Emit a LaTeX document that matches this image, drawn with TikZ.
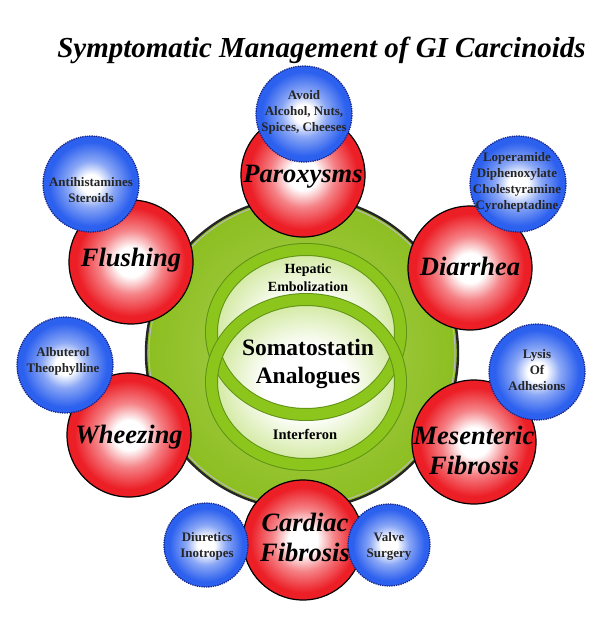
\documentclass[tikz,border=0pt]{standalone}
\usepackage{fontspec}
\setmainfont{Liberation Serif}
\usetikzlibrary{shapes.geometric}

\definecolor{symred}{RGB}{236,30,38}
\definecolor{thblue}{RGB}{44,96,238}
\definecolor{thedge}{RGB}{22,38,140}
\definecolor{hubgreen}{RGB}{140,190,32}
\definecolor{hublight}{RGB}{214,234,160}
\definecolor{ringgreen}{RGB}{140,198,28}
\definecolor{ringedge}{RGB}{96,146,22}
\definecolor{ringfill}{RGB}{208,232,156}

\pgfdeclareradialshading{redball}{\pgfpointorigin}{color(0bp)=(white); color(6bp)=(white); color(13bp)=(symred!55!white); color(22bp)=(symred); color(50bp)=(symred)}
\pgfdeclareradialshading{blueball}{\pgfpointorigin}{color(0bp)=(white); color(5bp)=(white); color(12bp)=(thblue!55!white); color(22bp)=(thblue); color(50bp)=(thblue)}
\pgfdeclareradialshading{hubdisc}{\pgfpointorigin}{color(0bp)=(hublight); color(14bp)=(hubgreen!80!hublight); color(25bp)=(hubgreen); color(50bp)=(hubgreen)}
\pgfdeclareradialshading{ringdisc}{\pgfpointorigin}{color(0bp)=(white); color(11bp)=(white); color(25bp)=(ringfill); color(50bp)=(ringfill)}

\tikzset{
  symptom/.style={circle, minimum size=124pt, inner sep=0pt, shading=redball, draw=black, line width=1.2pt},
  therapy/.style={circle, minimum size=96pt, inner sep=0pt, shading=blueball, draw=thedge, densely dotted, line width=1.3pt},
  symptomtext/.style={align=center, inner sep=0pt, font=\bfseries\itshape\fontsize{26.5}{30}\selectfont},
  therapytext/.style={align=center, inner sep=0pt, text=black!85, font=\bfseries\fontsize{13}{16}\selectfont},
  ring/.style={line width=13pt, ringedge},
  ringcore/.style={line width=11pt, ringgreen}
}

\begin{document}
\begin{tikzpicture}[x=1pt, y=-1pt]
  \useasboundingbox (0,0) rectangle (612,634);
  \node [anchor=base, font=\bfseries\itshape\fontsize{29}{33}\selectfont] (title) at (321.5,58) {Symptomatic Management of GI Carcinoids};

  \shade [shading=hubdisc] (302,353) circle [radius=156];
  \draw [line width=2.4pt, black!85] (302,353) circle [radius=156];
  \draw [line width=1pt, gray!55] (302,353) circle [radius=153];

  \shade [shading=ringdisc] (306,332) ellipse [x radius=94, y radius=82];
  \shade [shading=ringdisc] (306,382) ellipse [x radius=94, y radius=82];
  \draw [ring] (306,332) ellipse [x radius=94.5, y radius=82.5];
  \draw [ringcore] (306,332) ellipse [x radius=94.5, y radius=82.5];
  \draw [ring] (306,382) ellipse [x radius=94.5, y radius=82.5];
  \draw [ringcore] (306,382) ellipse [x radius=94.5, y radius=82.5];

  \node [align=center, font=\bfseries\fontsize{14}{18}\selectfont] (hepatic) at (308,278) {Hepatic\\Embolization};
  \node [align=center, font=\bfseries\fontsize{23.5}{28}\selectfont] (somato) at (308,364) {Somatostatin\\Analogues};
  \node [font=\bfseries\fontsize{14.5}{18}\selectfont] (interferon) at (305,434) {Interferon};

  \node [symptom] (paroxysms) at (303,175) {};
  \node [symptom] (flushing) at (131,262) {};
  \node [symptom] (diarrhea) at (470,268) {};
  \node [symptom] (wheezing) at (129,435) {};
  \node [symptom] (mesenteric) at (474,442) {};
  \node [symptom, minimum size=120pt] (cardiac) at (303,540) {};

  \node [therapy] (avoid) at (304,114) {};
  \node [therapy] (antihist) at (91,184) {};
  \node [therapy] (loperamide) at (518,184) {};
  \node [therapy] (albuterol) at (65,365) {};
  \node [therapy] (lysis) at (537,372) {};
  \node [therapy, minimum size=84pt] (diuretics) at (206,545) {};
  \node [therapy, minimum size=82pt] (valve) at (389,545) {};

  \node [symptomtext] (paroxysms-t) at (303,177) {Paroxysms};
  \node [symptomtext] (flushing-t) at (131,260) {Flushing};
  \node [symptomtext] (diarrhea-t) at (470,266) {Diarrhea};
  \node [symptomtext] (wheezing-t) at (129,437) {Wheezing};
  \node [symptomtext] (mesenteric-t) at (474,450) {Mesenteric\\Fibrosis};
  \node [symptomtext] (cardiac-t) at (305,537) {Cardiac\\Fibrosis};

  \node [therapytext] (avoid-t) at (304,112) {Avoid\\Alcohol, Nuts,\\Spices, Cheeses};
  \node [therapytext] (antihist-t) at (91,190) {Antihistamines\\Steroids};
  \node [therapytext] (loperamide-t) at (517,182) {Loperamide\\Diphenoxylate\\Cholestyramine\\Cyroheptadine};
  \node [therapytext] (albuterol-t) at (63,361) {Albuterol\\Theophylline};
  \node [therapytext] (lysis-t) at (537,370) {Lysis\\Of\\Adhesions};
  \node [therapytext] (diuretics-t) at (207,546) {Diuretics\\Inotropes};
  \node [therapytext] (valve-t) at (389,546) {Valve\\Surgery};
\end{tikzpicture}
\end{document}
